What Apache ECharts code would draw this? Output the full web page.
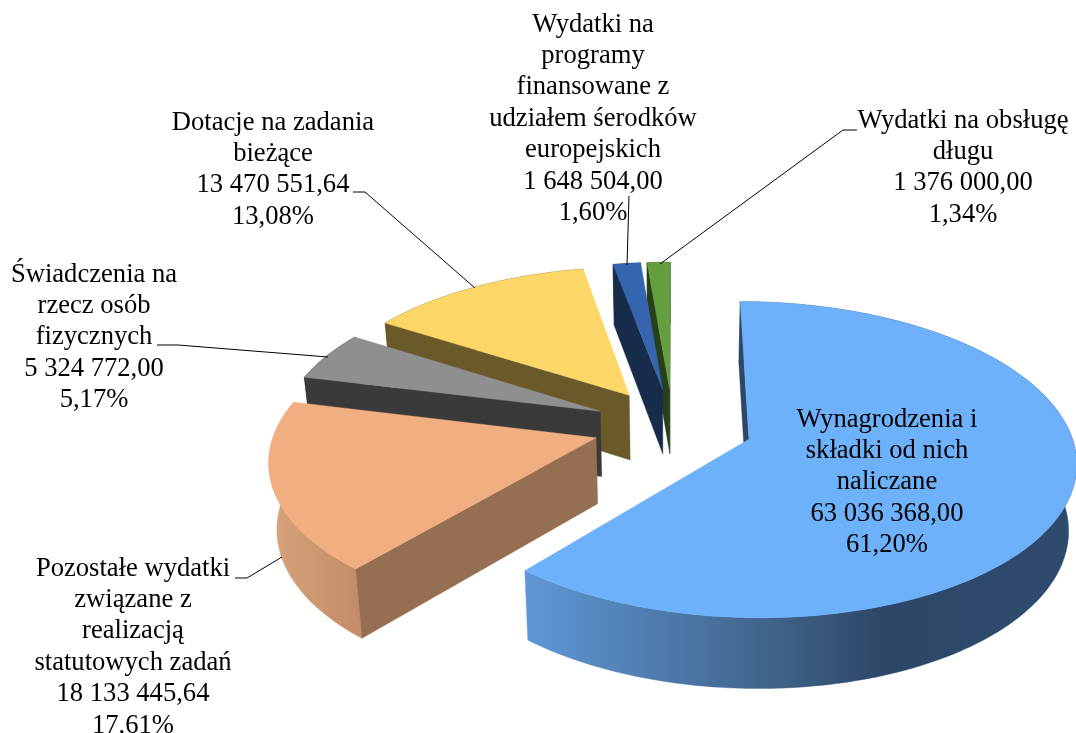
<!DOCTYPE html>
<html><head><meta charset="utf-8">
<style>html,body{margin:0;padding:0;background:#fff}#c{width:1076px;height:733px}</style>
<script src="https://cdn.jsdelivr.net/npm/echarts@6/dist/echarts.min.js"></script>
</head><body><div id="c"></div>
<script>
// ---- data ----
const categories = [
  'Wynagrodzenia i\nskładki od nich\nnaliczane',
  'Pozostałe wydatki\nzwiązane z\nrealizacją\nstatutowych zadań',
  'Świadczenia na\nrzecz osób\nfizycznych',
  'Dotacje na zadania\nbieżące',
  'Wydatki na\nprogramy\nfinansowane z\nudziałem śerodków\neuropejskich',
  'Wydatki na obsługę\ndługu'
];
const values = [63036368.00, 18133445.64, 5324772.00, 13470551.64, 1648504.00, 1376000.00];
const amountLabels = ['63 036 368,00','18 133 445,64','5 324 772,00','13 470 551,64','1 648 504,00','1 376 000,00'];
const percentLabels = ['61,20%','17,61%','5,17%','13,08%','1,60%','1,34%'];

// ---- styles ----
const topColors  = ['#6DB1FA','#F1AE81','#8F8F8F','#FCD666','#3565AE','#659E3F'];
const sideColors = ['#2C4767','#966E52','#3A3A3A','#6B5A29','#172B4A','#28401A'];
const outerStops = [
  [[0,'#5F97D6'],[0.46,'#3F6288'],[0.65,'#2C4767'],[1,'#2E4B6E']],
  [[0,'#D8A47C'],[1,'#C28D68']],
  [[0,'#3A3A3A'],[1,'#3A3A3A']],
  [[0,'#6B5A29'],[1,'#6B5A29']],
  [[0,'#172B4A'],[1,'#172B4A']],
  [[0,'#28401A'],[1,'#28401A']]
];
// ---- layout ----
const centerX = 673, centerY = 426, radius = 320, explode = 80, depth = 65.5;
const tilt = 0.475, camera = 2500, lowerShrink = 0.02, depthPerspective = 0.5;
const labelCenters = [[887,404],[133,553],[94,259],[273,107],[593,9],[963,105]];
const labelFontSize = 26.6, labelLineHeight = 31.4;
const leaderLines = [
  null,
  [[235,578],[247,578],[282,557]],
  [[157,345],[178,345],[328,357]],
  [[353,192],[365,192],[475,288]],
  [[629,196],[627,265]],
  [[857,130],[843,130],[660,264]]
];
const drawOrder = [5,4,3,2,1,0];

const total = values.reduce((a,b)=>a+b,0);
const starts = []; let acc = 0;
values.forEach(v=>{starts.push(acc/total*Math.PI*2); acc+=v;});

function project(X,Z){
  const s = 1/(1-Z/camera);
  const x = centerX+X*s, y = centerY+tilt*Z*s;
  return {top:[x,y], low:[centerX+(x-centerX)*(1-lowerShrink), y+depth*(1+(s-1)*depthPerspective)]};
}
function turn(a,b,c){ return (b[0]-a[0])*(c[1]-b[1])-(b[1]-a[1])*(c[0]-b[0]); }
function sliceShapes(i){
  const a0 = starts[i], a1 = a0+values[i]/total*Math.PI*2, mid=(a0+a1)/2;
  const ox = explode*Math.sin(mid), oz = -explode*Math.cos(mid);
  const apex = project(ox,oz);
  const n = Math.max(4,Math.ceil((a1-a0)/0.02));
  const arc = [];
  for(let k=0;k<=n;k++){
    const a = a0+(a1-a0)*k/n;
    arc.push(project(ox+radius*Math.sin(a), oz-radius*Math.cos(a)));
  }
  const arcTop = arc.map(p=>p.top), arcLow = arc.map(p=>p.low);
  const xs = arcTop.map(p=>p[0]);
  const first = arc[0], last = arc[n];
  return {
    top:[apex.top].concat(arcTop),
    outer:arcTop.concat(arcLow.slice().reverse()),
    wallA:turn(apex.top,first.top,first.low)<0 ? [apex.top,first.top,first.low,apex.low] : null,
    wallB:turn(apex.top,last.top,last.low)>0 ? [apex.top,last.top,last.low,apex.low] : null,
    minX:Math.min.apply(null,xs), maxX:Math.max.apply(null,xs)
  };
}
function renderSlice(params, api){
  const i = api.value(0);
  const g = sliceShapes(i);
  const poly = (pts,fill)=>({type:'polygon',shape:{points:pts},style:{fill:fill,stroke:fill,lineWidth:0.4}});
  const kids = [poly(g.outer,{type:'linear',global:true,x:g.minX,y:0,x2:g.maxX,y2:0,
      colorStops:outerStops[i].map(s=>({offset:s[0],color:s[1]}))})];
  if(g.wallA) kids.push(poly(g.wallA,sideColors[i]));
  if(g.wallB) kids.push(poly(g.wallB,sideColors[i]));
  kids.push(poly(g.top,topColors[i]));
  return {type:'group',children:kids};
}
function renderLabel(params, api){
  const i = api.value(0);
  const kids = [];
  if(leaderLines[i]) kids.push({type:'polyline',shape:{points:leaderLines[i]},style:{fill:null,stroke:'#000',lineWidth:1}});
  kids.push({type:'text',style:{
    text:categories[i]+'\n'+amountLabels[i]+'\n'+percentLabels[i],
    x:labelCenters[i][0],y:labelCenters[i][1],align:'center',verticalAlign:'top',
    font:labelFontSize+'px "Liberation Serif"',lineHeight:labelLineHeight,fill:'#000'}});
  return {type:'group',children:kids};
}
const chart = echarts.init(document.getElementById('c'),null,{renderer:'canvas'});
chart.setOption({
  animation:false,backgroundColor:'#fff',
  series:[
    {type:'custom',coordinateSystem:'none',renderItem:renderSlice,silent:true,z:1,
     data:drawOrder.map(i=>[i,values[i]])},
    {type:'custom',coordinateSystem:'none',renderItem:renderLabel,silent:true,z:2,
     data:drawOrder.map(i=>[i,values[i]])}
  ]
});
</script></body></html>
